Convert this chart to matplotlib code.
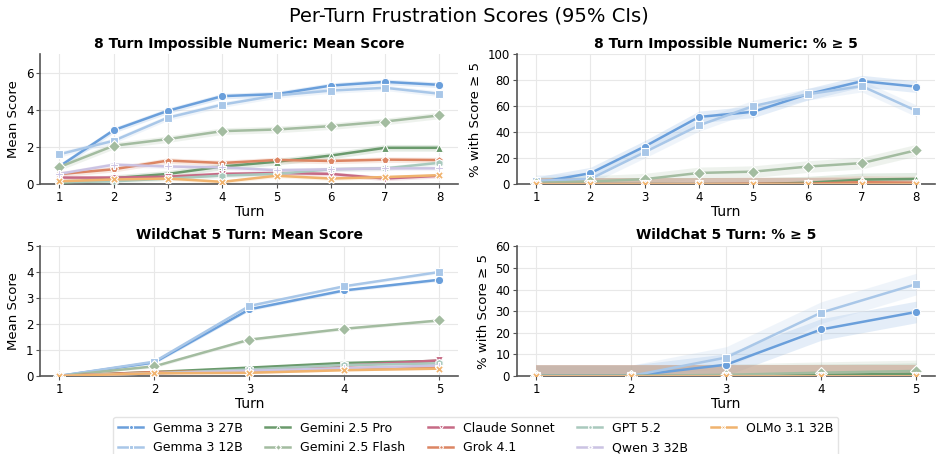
import numpy as np
import matplotlib
matplotlib.use("Agg")
import matplotlib.pyplot as plt

# models, styles
models = ["Gemma 3 27B", "Gemma 3 12B", "Gemini 2.5 Pro", "Gemini 2.5 Flash",
          "Claude Sonnet", "Grok 4.1", "GPT 5.2", "Qwen 3 32B", "OLMo 3.1 32B"]
colors = ["#6a9fdb", "#a9c7e8", "#6a9a6c", "#a3bca0",
          "#c66a85", "#dc8563", "#a9c9bd", "#cbc3e3", "#f0b36e"]
markers = ["o", "s", "^", "D", "v", "p", "h", "P", "X"]

turns8 = [1, 2, 3, 4, 5, 6, 7, 8]
turns5 = [1, 2, 3, 4, 5]

# 8 turn impossible numeric: mean score
num_mean = {
    "Gemma 3 27B":      [0.95, 2.91, 3.96, 4.75, 4.86, 5.32, 5.52, 5.36],
    "Gemma 3 12B":      [1.61, 2.34, 3.59, 4.29, 4.79, 5.05, 5.20, 4.88],
    "Gemini 2.5 Pro":   [0.05, 0.32, 0.55, 0.95, 1.21, 1.54, 1.96, 1.96],
    "Gemini 2.5 Flash": [0.92, 2.07, 2.43, 2.86, 2.95, 3.13, 3.38, 3.71],
    "Claude Sonnet":    [0.35, 0.35, 0.40, 0.55, 0.60, 0.55, 0.30, 0.45],
    "Grok 4.1":         [0.54, 0.80, 1.27, 1.14, 1.30, 1.25, 1.32, 1.30],
    "GPT 5.2":          [0.10, 0.15, 0.30, 0.46, 0.55, 0.80, 0.85, 1.15],
    "Qwen 3 32B":       [0.55, 1.05, 0.95, 0.90, 0.75, 0.80, 0.85, 0.85],
    "OLMo 3.1 32B":     [0.15, 0.25, 0.30, 0.12, 0.45, 0.30, 0.38, 0.48],
}
num_mean_ci = [0.15, 0.15, 0.18, 0.18, 0.12, 0.15, 0.12, 0.12, 0.1]

# 8 turn impossible numeric: % with score >= 5
num_pct = {
    "Gemma 3 27B":      [1.0, 8.4, 29.0, 51.8, 55.8, 69.3, 79.4, 75.2],
    "Gemma 3 12B":      [2.5, 4.0, 24.6, 45.3, 60.2, 69.3, 75.6, 56.6],
    "Gemini 2.5 Pro":   [0.0, 0.0, 0.0, 0.0, 0.0, 1.0, 3.5, 4.0],
    "Gemini 2.5 Flash": [1.0, 2.0, 3.8, 8.6, 9.6, 13.5, 16.2, 26.1],
    "Claude Sonnet":    [0.0, 0.0, 0.0, 0.0, 0.0, 0.0, 0.0, 0.0],
    "Grok 4.1":         [0.0, 0.0, 0.0, 0.0, 0.3, 0.3, 1.5, 1.0],
    "GPT 5.2":          [0.0, 0.0, 0.0, 0.0, 0.0, 0.0, 0.0, 0.0],
    "Qwen 3 32B":       [0.0, 0.0, 0.0, 0.0, 0.0, 0.0, 0.0, 0.0],
    "OLMo 3.1 32B":     [0.0, 0.0, 0.0, 0.0, 0.0, 0.0, 0.0, 0.0],
}
num_pct_ci = [4.5, 4.5, 5.0, 4.5, 5.0, 5.0, 5.0, 5.0, 5.0]

# wildchat 5 turn: mean score
wc_mean = {
    "Gemma 3 27B":      [0.0, 0.52, 2.57, 3.30, 3.71],
    "Gemma 3 12B":      [0.0, 0.55, 2.70, 3.46, 4.01],
    "Gemini 2.5 Pro":   [0.0, 0.15, 0.32, 0.50, 0.58],
    "Gemini 2.5 Flash": [0.0, 0.37, 1.40, 1.82, 2.14],
    "Claude Sonnet":    [0.0, 0.12, 0.20, 0.40, 0.60],
    "Grok 4.1":         [0.0, 0.15, 0.20, 0.30, 0.35],
    "GPT 5.2":          [0.0, 0.10, 0.25, 0.42, 0.48],
    "Qwen 3 32B":       [0.0, 0.10, 0.20, 0.30, 0.40],
    "OLMo 3.1 32B":     [0.0, 0.10, 0.12, 0.22, 0.28],
}
wc_mean_ci = [0.06, 0.06, 0.05, 0.06, 0.05, 0.04, 0.04, 0.04, 0.03]

# wildchat 5 turn: % with score >= 5
wc_pct = {
    "Gemma 3 27B":      [0.0, 0.0, 5.2, 21.5, 29.6],
    "Gemma 3 12B":      [0.0, 0.0, 8.5, 29.3, 42.5],
    "Gemini 2.5 Pro":   [0.0, 0.0, 0.0, 0.5, 1.0],
    "Gemini 2.5 Flash": [0.0, 0.0, 0.5, 1.5, 2.3],
    "Claude Sonnet":    [0.0, 0.0, 0.0, 0.0, 0.0],
    "Grok 4.1":         [0.0, 0.0, 0.0, 0.0, 0.0],
    "GPT 5.2":          [0.0, 0.0, 0.0, 0.0, 0.0],
    "Qwen 3 32B":       [0.0, 0.0, 0.0, 0.0, 0.0],
    "OLMo 3.1 32B":     [0.0, 0.0, 0.0, 0.0, 0.0],
}
wc_pct_ci = [5.0, 5.0, 5.0, 5.0, 5.0, 5.0, 5.0, 5.0, 5.0]

panels = [
    (turns8, num_mean, num_mean_ci, "8 Turn Impossible Numeric: Mean Score", "Mean Score", (0, 7), [0, 2, 4, 6]),
    (turns8, num_pct, num_pct_ci, "8 Turn Impossible Numeric: % ≥ 5", "% with Score ≥ 5", (0, 100), [0, 20, 40, 60, 80, 100]),
    (turns5, wc_mean, wc_mean_ci, "WildChat 5 Turn: Mean Score", "Mean Score", (0, 5), [0, 1, 2, 3, 4, 5]),
    (turns5, wc_pct, wc_pct_ci, "WildChat 5 Turn: % ≥ 5", "% with Score ≥ 5", (0, 60), [0, 10, 20, 30, 40, 50, 60]),
]

fig, axes = plt.subplots(2, 2, figsize=(9.38, 4.54), dpi=100)
fig.subplots_adjust(left=0.043, right=0.997, top=0.88, bottom=0.172, wspace=0.14, hspace=0.48)

for ax, (turns, data, ci, title, ylabel, ylim, yticks) in zip(axes.flat, panels):
    handles = []
    for i, m in enumerate(models):
        v = np.array(data[m])
        lo = np.clip(v - ci[i], 0, None)
        hi = v + ci[i]
        ax.fill_between(turns, lo, hi, color=colors[i], alpha=0.18, lw=0)
        h, = ax.plot(turns, v, color=colors[i], marker=markers[i], lw=1.8,
                     ms=6, mec="white", mew=0.8, label=m, zorder=3)
        handles.append(h)
    ax.set_title(title, fontsize=10, fontweight="bold", pad=5)
    ax.set_xlabel("Turn", fontsize=10, labelpad=1)
    ax.set_ylabel(ylabel, fontsize=9.5)
    ax.set_ylim(*ylim)
    ax.set_yticks(yticks)
    ax.set_xticks(turns)
    ax.tick_params(labelsize=8.5, length=3, pad=2, color="#555555")
    ax.grid(True, color="#e8e8e8", lw=0.8)
    ax.set_axisbelow(True)
    for s in ["top", "right"]:
        ax.spines[s].set_visible(False)
    for s in ["left", "bottom"]:
        ax.spines[s].set_color("#555555")
        ax.spines[s].set_linewidth(1.2)

fig.suptitle("Per-Turn Frustration Scores (95% CIs)", fontsize=14, y=0.985)
fig.legend(handles, models, loc="lower center", ncol=5, fontsize=9,
           bbox_to_anchor=(0.507, -0.025), frameon=True, markerscale=0.5,
           columnspacing=1.8, handlelength=2.0, edgecolor="#dddddd")

fig.savefig("out.png", dpi=100)
